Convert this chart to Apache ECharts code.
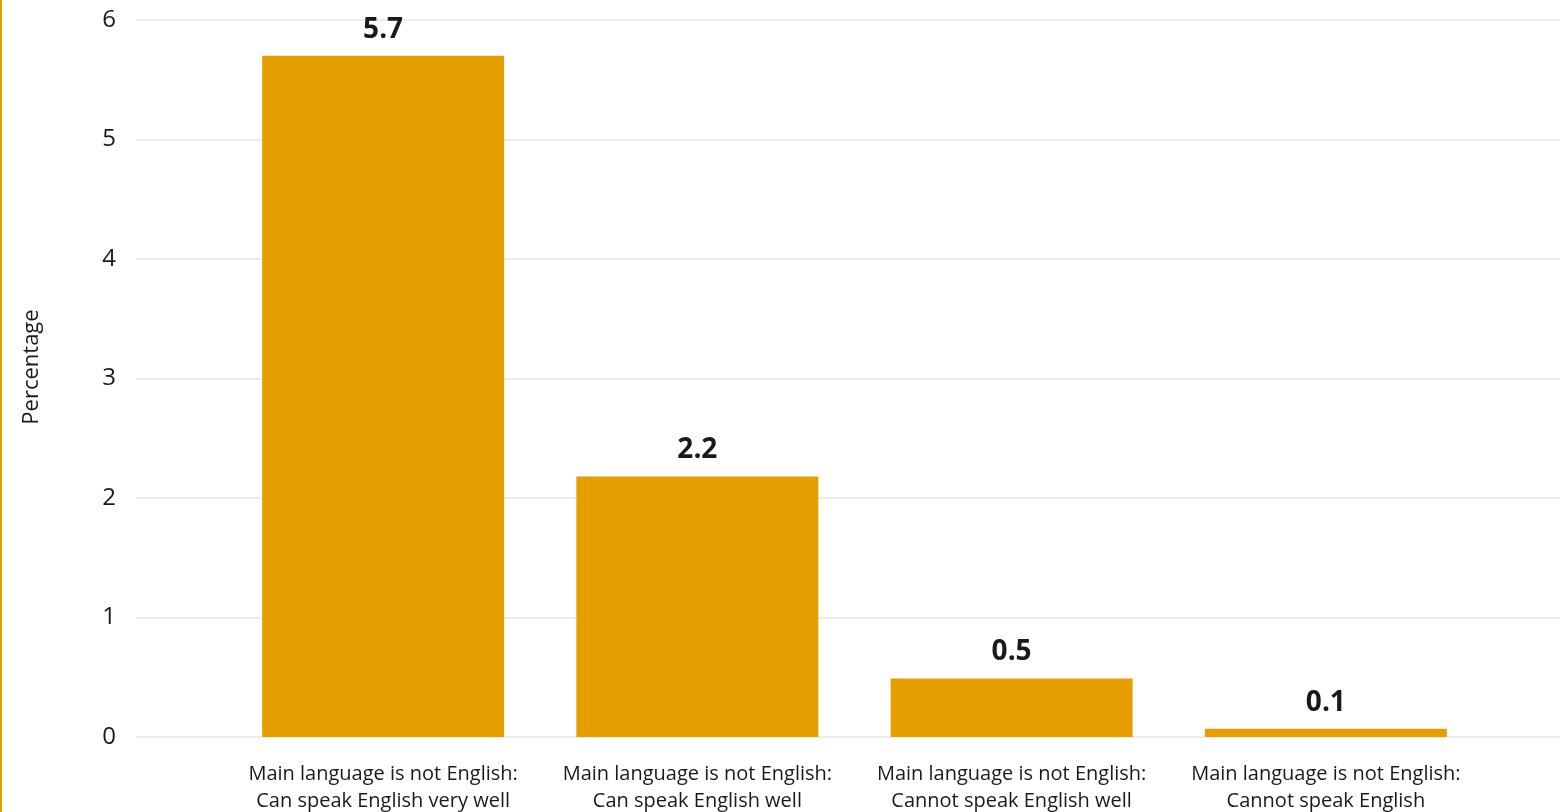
<!DOCTYPE html>
<html>
<head>
<meta charset="utf-8">
<script src="https://cdn.jsdelivr.net/npm/echarts@6/dist/echarts.min.js"></script>
<style>
html,body{margin:0;padding:0;background:#fff;}
#chart{width:1560px;height:812px;}
</style>
</head>
<body>
<div id="chart"></div>
<script>
const categories = [
  "Main language is not English:\nCan speak English very well",
  "Main language is not English:\nCan speak English well",
  "Main language is not English:\nCannot speak English well",
  "Main language is not English:\nCannot speak English"
];
const values = [5.7, 2.18, 0.49, 0.07];
const yTicks = [0, 1, 2, 3, 4, 5, 6];
const yName = "Percentage";

const FONT = "'Open Sans', 'Noto Sans', sans-serif";
const BAR = "#E5A000";
const TEXT = "#1a1a1a";
const chart = echarts.init(document.getElementById('chart'));
chart.setOption({
  animation: false,
  backgroundColor: '#fff',
  graphic: [
    {
      type: 'rect', left: 0, top: 0,
      shape: { x: 0, y: 0, width: 2, height: 812 },
      style: { fill: BAR }, silent: true
    },
    {
      type: 'text', x: 32, y: 367, rotation: Math.PI / 2,
      style: {
        text: yName, fill: TEXT, font: "22px 'Open Sans', 'Noto Sans', sans-serif",
        align: 'center', verticalAlign: 'middle'
      }, silent: true
    }
  ],
  grid: [
    { left: 136, right: 0, top: 20, bottom: 75, containLabel: false, outerBoundsMode: 'none' },
    { left: 226, right: 77, top: 20, bottom: 75, containLabel: false, outerBoundsMode: 'none' }
  ],
  xAxis: [
    { gridIndex: 0, type: 'category', data: categories, show: false },
    {
      gridIndex: 1, type: 'category', data: categories,
      axisLine: { show: false }, axisTick: { show: false },
      axisLabel: { color: TEXT, fontFamily: FONT, fontSize: 20, lineHeight: 27, margin: 24, interval: 0 }
    }
  ],
  yAxis: [
    {
      gridIndex: 0, type: 'value', min: yTicks[0], max: yTicks[yTicks.length - 1], interval: 1,
      axisLine: { show: false }, axisTick: { show: false },
      axisLabel: { color: TEXT, fontFamily: FONT, fontSize: 24, margin: 20 },
      splitLine: { lineStyle: { color: '#e6e6e6', width: 1.5 } }
    },
    {
      gridIndex: 1, type: 'value', min: yTicks[0], max: yTicks[yTicks.length - 1], interval: 1,
      show: false, splitLine: { show: false }
    }
  ],
  series: [{
    type: 'bar', xAxisIndex: 1, yAxisIndex: 1,
    data: values, barWidth: 242,
    itemStyle: { color: BAR },
    label: {
      show: true, position: 'top', distance: 12,
      color: TEXT, fontFamily: FONT, fontWeight: 'bold', fontSize: 28,
      formatter: p => p.value.toFixed(1)
    }
  }]
});
</script>
</body>
</html>
